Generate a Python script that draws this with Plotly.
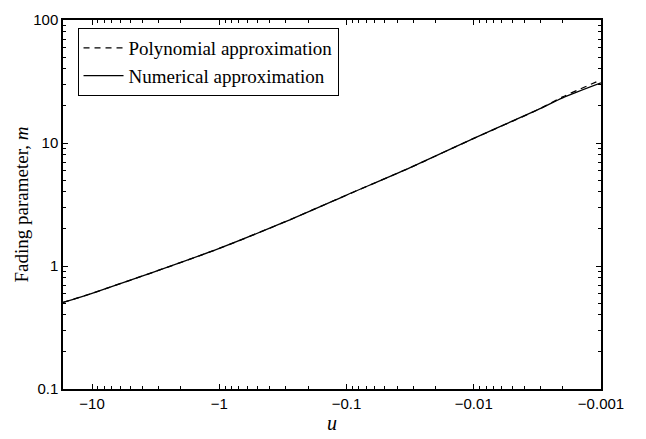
import plotly.graph_objects as go

# Data (u is negative, shown on a reversed log scale of -u)
u_vals = [-16.9, -10, -3.16, -1, -0.316, -0.1, -0.0316, -0.01, -0.00316, -0.002, -0.001]
m_numerical = [0.505, 0.60, 0.905, 1.39, 2.25, 3.77, 6.31, 10.9, 18.6, 23.3, 30.8]
m_polynomial = [0.505, 0.60, 0.905, 1.39, 2.25, 3.77, 6.31, 10.9, 18.6, 23.7, 32.6]

x_tickvals = [10, 1, 0.1, 0.01, 0.001]
x_ticktext = ["\u221210", "\u22121", "\u22120.1", "\u22120.01", "\u22120.001"]
y_tickvals = [0.1, 1, 10, 100]
y_ticktext = ["0.1", "1", "10", "100"]

neg_u = [-v for v in u_vals]

minor_x = [k * 10.0 ** e for e in range(-3, 2) for k in range(2, 10) if k * 10.0 ** e <= 16.9]
minor_y = [k * 10.0 ** e for e in range(-1, 2) for k in range(2, 10)]

serif = "Liberation Serif"
sans = "Liberation Sans"

X_RANGE = [1.228, -3]
Y_RANGE = [-1, 2]

fig = go.Figure()
fig.add_trace(go.Scatter(x=neg_u, y=m_polynomial, mode="lines", name="Polynomial approximation",
                         line=dict(color="black", width=1.3, dash="6px,5px", shape="spline", smoothing=0.8)))
fig.add_trace(go.Scatter(x=neg_u, y=m_numerical, mode="lines", name="Numerical approximation",
                         line=dict(color="black", width=1.3, shape="spline", smoothing=0.8)))
# invisible trace to anchor the minor-tick overlay axes
fig.add_trace(go.Scatter(x=[neg_u[0]], y=[m_numerical[0]], xaxis="x2", yaxis="y2", mode="markers",
                         marker=dict(opacity=0), showlegend=False, hoverinfo="skip"))

axis_common = dict(showline=True, linecolor="black", linewidth=1.5, mirror="ticks",
                   ticks="inside", tickwidth=1, tickcolor="black",
                   showgrid=False, zeroline=False)

fig.update_layout(
    xaxis=dict(type="log", range=X_RANGE, tickmode="array", tickvals=x_tickvals,
               ticktext=x_ticktext, ticklen=5,
               tickfont=dict(family=sans, size=15, color="black"),
               title=dict(text="<i>u</i>", font=dict(family=serif, size=20, color="black"), standoff=2),
               **axis_common),
    yaxis=dict(type="log", range=Y_RANGE, tickmode="array", tickvals=y_tickvals,
               ticktext=y_ticktext, ticklen=5,
               tickfont=dict(family=sans, size=15, color="black"),
               title=dict(text="Fading parameter, <i>m</i>", font=dict(family=serif, size=19, color="black"),
                          standoff=0),
               **axis_common),
    xaxis2=dict(type="log", range=X_RANGE, overlaying="x", anchor="y2", tickmode="array",
                tickvals=minor_x, showticklabels=False, ticklen=3, **axis_common),
    yaxis2=dict(type="log", range=Y_RANGE, overlaying="y", anchor="x2", tickmode="array",
                tickvals=minor_y, showticklabels=False, ticklen=3, **axis_common),
    width=646, height=439,
    margin=dict(l=63, r=45, t=11, b=44),
    paper_bgcolor="white", plot_bgcolor="white",
    showlegend=True,
    legend=dict(x=0.027, y=0.978, xanchor="left", yanchor="top",
                bordercolor="black", borderwidth=1, bgcolor="white",
                font=dict(family=serif, size=19, color="black"),
                tracegroupgap=0, itemwidth=40),
)

fig.write_html("out.html")
